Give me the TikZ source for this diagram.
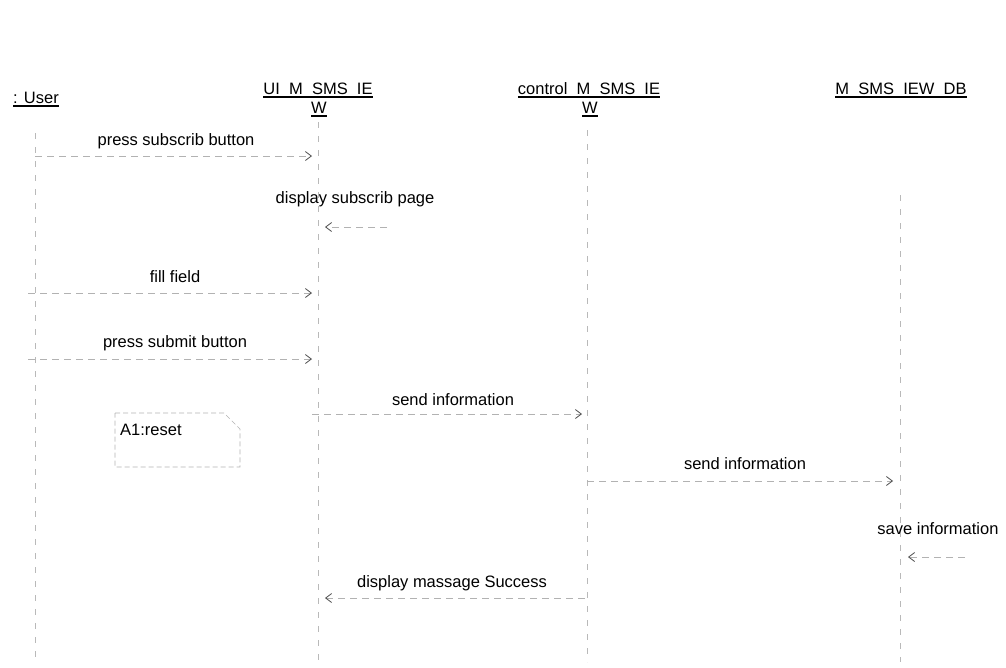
\documentclass[tikz,border=0pt]{standalone}
\usepackage{fontspec}
\setmainfont{Liberation Sans}
\usetikzlibrary{arrows.meta}
% underline for object names; the rule covers the underscores
\newcommand\hdrul[1]{\setbox0\hbox{#1}\rlap{\rule[-0.24em]{\wd0}{0.11em}}\box0}
\begin{document}
\begin{tikzpicture}[x=1pt,y=-1pt,
  every node/.style={inner sep=0pt, font=\fontsize{16.5}{19}\selectfont},
  hdr/.style={anchor=base},
  lbl/.style={anchor=base},
  lifeline/.style={draw=gray!55, line width=0.6pt, dash pattern=on 6pt off 8pt},
  msg/.style={draw=gray!60, line width=0.7pt, dash pattern=on 7pt off 5pt,
    -{Straight Barb[length=6pt,width=9pt,line width=0.8pt,color=black!70]}},
  notebox/.style={draw=gray!60, line width=0.6pt, dash pattern=on 5pt off 3pt}]
\useasboundingbox (0,0) rectangle (1006,667);

% object headers
\node[hdr] (user) at (36,103) {\hdrul{: User}};
\node[hdr] (ui)   at (318,94) {\hdrul{UI\_M\_SMS\_IE}};
\node[hdr] (uiw)  at (319,113) {\hdrul{W}};
\node[hdr] (ctl)  at (589,94) {\hdrul{control\_M\_SMS\_IE}};
\node[hdr] (ctlw) at (590,113) {\hdrul{W}};
\node[hdr] (db)   at (901,94) {\hdrul{M\_SMS\_IEW\_DB}};

% lifelines
\coordinate (userTop) at (35,133);  \coordinate (userBot) at (35,662);
\coordinate (uiTop)   at (318,122); \coordinate (uiBot)   at (318,662);
\coordinate (ctlTop)  at (587,130); \coordinate (ctlBot)  at (587,662);
\coordinate (dbTop)   at (900,195); \coordinate (dbBot)   at (900,662);
\draw[lifeline] (userTop) -- (userBot);
\draw[lifeline] (uiTop) -- (uiBot);
\draw[lifeline] (ctlTop) -- (ctlBot);
\draw[lifeline] (dbTop) -- (dbBot);

% messages
\coordinate (m1a) at (35,156);  \coordinate (m1b) at (312,156);
\draw[msg] (m1a) -- (m1b);
\node[lbl] (t1) at (176,145) {press subscrib button};

\coordinate (m2a) at (387,227); \coordinate (m2b) at (325,227);
\draw[msg] (m2a) -- (m2b);
\node[lbl] (t2) at (355,203) {display subscrib page};

\coordinate (m3a) at (28,293);  \coordinate (m3b) at (312,293);
\draw[msg] (m3a) -- (m3b);
\node[lbl] (t3) at (175,282) {fill field};

\coordinate (m4a) at (28,359);  \coordinate (m4b) at (312,359);
\draw[msg] (m4a) -- (m4b);
\node[lbl] (t4) at (175,347) {press submit button};

\coordinate (m5a) at (312,414); \coordinate (m5b) at (582,414);
\draw[msg] (m5a) -- (m5b);
\node[lbl] (t5) at (453,405) {send information};

\coordinate (m6a) at (587,481); \coordinate (m6b) at (893,481);
\draw[msg] (m6a) -- (m6b);
\node[lbl] (t6) at (745,469) {send information};

\coordinate (m7a) at (965,557); \coordinate (m7b) at (908,557);
\draw[msg] (m7a) -- (m7b);
\node[lbl] (t7) at (938,534) {save information};

\coordinate (m8a) at (585,598); \coordinate (m8b) at (325,598);
\draw[msg] (m8a) -- (m8b);
\node[lbl] (t8) at (452,587) {display massage Success};

% note
\node[anchor=base west] (note) at (120,435) {A1:reset};
\draw[notebox] (115,413) -- (224,413) -- (240,429) -- (240,467) -- (115,467) -- cycle;
\end{tikzpicture}
\end{document}
